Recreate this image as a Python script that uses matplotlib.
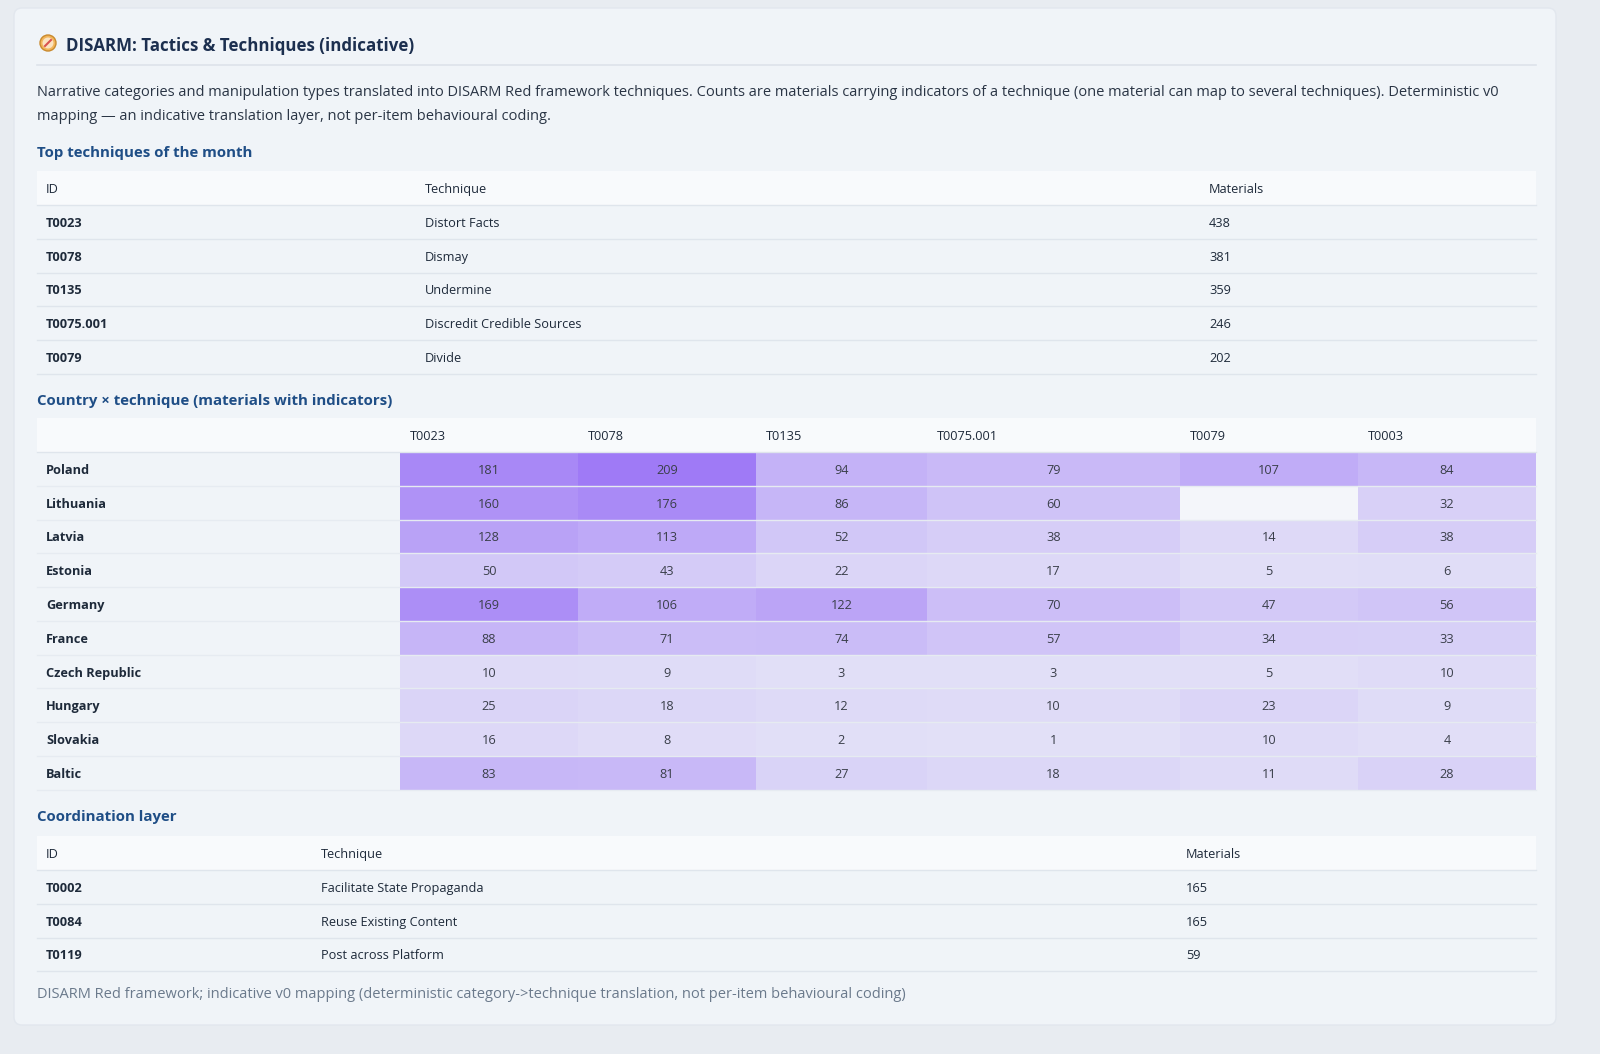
import matplotlib.pyplot as plt
from matplotlib.patches import Rectangle, FancyBboxPatch, Circle

plt.rcParams['font.family'] = ['Open Sans', 'DejaVu Sans']

# data
top_ids = ["T0023", "T0078", "T0135", "T0075.001", "T0079"]
top_names = ["Distort Facts", "Dismay", "Undermine", "Discredit Credible Sources", "Divide"]
top_counts = [438, 381, 359, 246, 202]

heat_cols = ["T0023", "T0078", "T0135", "T0075.001", "T0079", "T0003"]
countries = ["Poland", "Lithuania", "Latvia", "Estonia", "Germany", "France",
             "Czech Republic", "Hungary", "Slovakia", "Baltic"]
heat_vals = [
    [181, 209, 94, 79, 107, 84],
    [160, 176, 86, 60, None, 32],
    [128, 113, 52, 38, 14, 38],
    [50, 43, 22, 17, 5, 6],
    [169, 106, 122, 70, 47, 56],
    [88, 71, 74, 57, 34, 33],
    [10, 9, 3, 3, 5, 10],
    [25, 18, 12, 10, 23, 9],
    [16, 8, 2, 1, 10, 4],
    [83, 81, 27, 18, 11, 28],
]

coord_ids = ["T0002", "T0084", "T0119"]
coord_names = ["Facilitate State Propaganda", "Reuse Existing Content", "Post across Platform"]
coord_counts = [165, 165, 59]

W, H = 1600, 1054
fig = plt.figure(figsize=(16, 10.54), dpi=100)
ax = fig.add_axes([0, 0, 1, 1])
ax.set_xlim(0, W)
ax.set_ylim(H, 0)
ax.axis('off')
fig.patch.set_facecolor('#e8ecf1')

ax.add_patch(FancyBboxPatch((14, 8), 1542, 1017, boxstyle="round,pad=0,rounding_size=8",
                            fc='#f0f4f8', ec='#e2e7ee', lw=1))

dark = '#1e2a3a'
blue = '#1f4e86'
L, R = 37, 1536
rh = 33.8
VA = 'center_baseline'

# title with small compass icon
ax.add_patch(Circle((48, 43), 8, fc='#f2b55a', ec='#c98a2e', lw=1))
ax.add_patch(Circle((48, 43), 5.5, fc='#fbe3c0', ec='none'))
ax.plot([45, 51], [46, 40], color='#d9534f', lw=1.5)
ax.text(66, 44, "DISARM: Tactics & Techniques (indicative)", fontsize=12.2, fontweight='bold',
        color='#1c2f4f', va=VA)
ax.plot([L, R], [65, 65], color='#dde3ea', lw=1.2)

desc1 = ("Narrative categories and manipulation types translated into DISARM Red framework techniques. "
         "Counts are materials carrying indicators of a technique (one material can map to several techniques). Deterministic v0")
desc2 = "mapping \u2014 an indicative translation layer, not per-item behavioural coding."
ax.text(L, 91, desc1, fontsize=10.5, color='#2a3545', va=VA)
ax.text(L, 115, desc2, fontsize=10.5, color='#2a3545', va=VA)


def section(y, txt):
    ax.text(L, y, txt, fontsize=10.8, fontweight='bold', color=blue, va=VA)


def header_row(yc, labels, xs):
    ax.add_patch(Rectangle((L, yc - rh / 2), R - L, rh, fc='#f8fafc', ec='none'))
    for lab, x in zip(labels, xs):
        ax.text(x, yc, lab, fontsize=9.2, color=dark, va=VA)
    ax.plot([L, R], [yc + rh / 2, yc + rh / 2], color='#dfe5ec', lw=1)


def simple_table(y0, ids, names, counts, xs):
    header_row(y0, ["ID", "Technique", "Materials"], xs)
    for i, (a, b, c) in enumerate(zip(ids, names, counts)):
        yc = y0 + (i + 1) * rh
        ax.text(xs[0], yc, a, fontsize=9.2, fontweight='bold', color=dark, va=VA)
        ax.text(xs[1], yc, b, fontsize=9.2, color=dark, va=VA)
        ax.text(xs[2], yc, str(c), fontsize=9.2, color=dark, va=VA)
        ax.plot([L, R], [yc + rh / 2, yc + rh / 2], color='#dfe5ec', lw=1)


section(151, "Top techniques of the month")
simple_table(188, top_ids, top_names, top_counts, [46, 425, 1209])

# heatmap
section(399, "Country \u00d7 technique (materials with indicators)")
edges = [400, 578, 756, 927, 1180, 1358, 1536]
hy = 435
header_row(hy, heat_cols, [e + 10 for e in edges[:-1]])
vmax = max(v for row in heat_vals for v in row if v is not None)
bg = (238 / 255, 242 / 255, 247 / 255)
pur = (139 / 255, 92 / 255, 246 / 255)
for i, (name, row) in enumerate(zip(countries, heat_vals)):
    yc = hy + (i + 1) * rh
    ax.text(46, yc, name, fontsize=9.2, fontweight='bold', color=dark, va=VA)
    for j, v in enumerate(row):
        x0, x1 = edges[j], edges[j + 1]
        if v is None:
            col = '#f4f6fa'
        else:
            a = 0.12 + 0.68 * v / vmax
            col = tuple(bg[k] * (1 - a) + pur[k] * a for k in range(3))
        ax.add_patch(Rectangle((x0, yc - rh / 2), x1 - x0, rh, fc=col, ec='none'))
        if v is not None:
            ax.text((x0 + x1) / 2, yc, str(v), fontsize=9.2, color='#3a3f4a', ha='center', va=VA)
    ax.plot([L, R], [yc + rh / 2, yc + rh / 2], color='#e6ebf1', lw=1)

section(816, "Coordination layer")
simple_table(853, coord_ids, coord_names, coord_counts, [46, 321, 1186])

ax.text(L, 992, "DISARM Red framework; indicative v0 mapping (deterministic category->technique translation, "
        "not per-item behavioural coding)", fontsize=10.5, color='#6b7a8c', va=VA)

fig.savefig("out.png", dpi=100, facecolor=fig.get_facecolor())
